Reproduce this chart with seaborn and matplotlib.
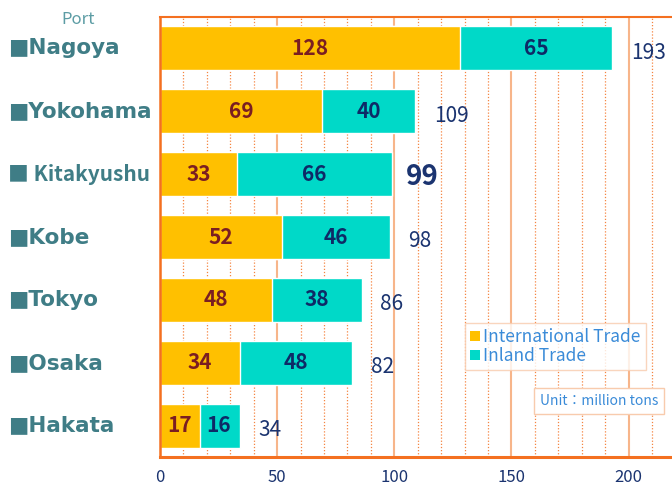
import seaborn as sns
import matplotlib.pyplot as plt
import matplotlib.transforms as mtransforms
from matplotlib.patches import Patch
from matplotlib.ticker import MultipleLocator

# data
ports = ["Nagoya", "Yokohama", "Kitakyushu", "Kobe", "Tokyo", "Osaka", "Hakata"]
international = [128, 69, 33, 52, 48, 34, 17]
inland = [65, 40, 66, 46, 38, 48, 16]
totals = [193, 109, 99, 98, 86, 82, 34]

yellow = "#FFC000"
teal = "#00D9C8"
orange = "#F47020"
navy = "#1B3470"

sns.set_style("white")
plt.rcParams['font.family'] = ['Noto Sans CJK JP', 'DejaVu Sans']

fig = plt.figure(figsize=(6.72, 4.87), dpi=100)
ax = fig.add_axes([160 / 672, 30 / 487, 1 - 160 / 672, 440 / 487])

# stacked bars: full total in teal, international drawn over it
sns.barplot(x=totals, y=ports, orient="h", color=teal, saturation=1, width=0.7, ax=ax)
sns.barplot(x=international, y=ports, orient="h", color=yellow, saturation=1, width=0.7, ax=ax)

ax.set_xlim(0, 218.5)
ax.set_ylim(6.5, -0.5)
ax.set_xlabel("")
ax.set_ylabel("")

# grid
ax.xaxis.set_major_locator(MultipleLocator(50))
ax.xaxis.set_minor_locator(MultipleLocator(10))
ax.grid(axis="x", which="minor", color=orange, linestyle=(0, (1, 1.5)), linewidth=0.9, alpha=0.85)
ax.grid(axis="x", which="major", color="#F7B58A", linestyle="-", linewidth=1.5)
ax.set_axisbelow(True)

for s in ["left", "bottom", "top"]:
    ax.spines[s].set_color(orange)
ax.spines["bottom"].set_linewidth(2.2)
ax.spines["left"].set_linewidth(1.8)
ax.spines["top"].set_linewidth(1.5)
ax.spines["right"].set_visible(False)

ax.tick_params(axis="x", which="both", length=0, labelsize=12, labelcolor=navy, pad=9)
ax.set_yticks(range(len(ports)))
ax.set_yticklabels([])
ax.set_yticks([i + 0.5 for i in range(len(ports) - 1)], minor=True)
ax.tick_params(axis="y", which="major", length=0)
ax.tick_params(axis="y", which="minor", direction="in", length=5, color="#F8C8A8", width=1)

# port labels on the left
trans = mtransforms.blended_transform_factory(fig.transFigure, ax.transData)
for i, p in enumerate(ports):
    if p == "Kitakyushu":
        ax.text(8 / 672, i, "■ " + p, transform=trans, ha="left", va="center",
                fontsize=15, fontweight="bold", color="#3F7D86")
    else:
        ax.text(8 / 672, i, "■" + p, transform=trans, ha="left", va="center",
                fontsize=15.5, fontweight="bold", color="#3F7D86", family="DejaVu Sans")
fig.text(78 / 672, 1 - 20 / 487, "Port", ha="center", va="center", fontsize=12, color="#5C9CA4")

# value labels
for i in range(len(ports)):
    ax.text(international[i] / 2, i, str(international[i]), ha="center", va="center",
            fontsize=15, fontweight="bold", color="#7A1E22")
    ax.text(international[i] + inland[i] / 2, i, str(inland[i]), ha="center", va="center",
            fontsize=15, fontweight="bold", color="#0E2A66")
    if ports[i] == "Kitakyushu":
        ax.text(totals[i] + 6, i + 0.05, str(totals[i]), ha="left", va="center",
                fontsize=20, fontweight="bold", color=navy)
    else:
        ax.text(totals[i] + 8, i + 0.07, str(totals[i]), ha="left", va="center",
                fontsize=15, color=navy)

# legend
handles = [Patch(facecolor=yellow, edgecolor="none", label="International Trade"),
           Patch(facecolor=teal, edgecolor="none", label="Inland Trade")]
leg = fig.legend(handles=handles, loc="upper left", bbox_to_anchor=(465 / 672, 1 - 323 / 487),
                 frameon=True, fancybox=False, fontsize=12.5, handlelength=0.55, handleheight=0.55,
                 handletextpad=0.2, labelspacing=0.05, borderpad=0.3, borderaxespad=0)
leg.get_frame().set_edgecolor("#F8CBAD")
leg.get_frame().set_linewidth(1)
for t in leg.get_texts():
    t.set_color("#3A8BD8")

fig.text(599 / 672, 1 - 401 / 487, "Unit：million tons", ha="center", va="center",
         fontsize=10, color="#3A8BD8",
         bbox=dict(boxstyle="square,pad=0.45", facecolor="white", edgecolor="#F8CBAD", linewidth=1))

plt.savefig("out.png", dpi=100)
